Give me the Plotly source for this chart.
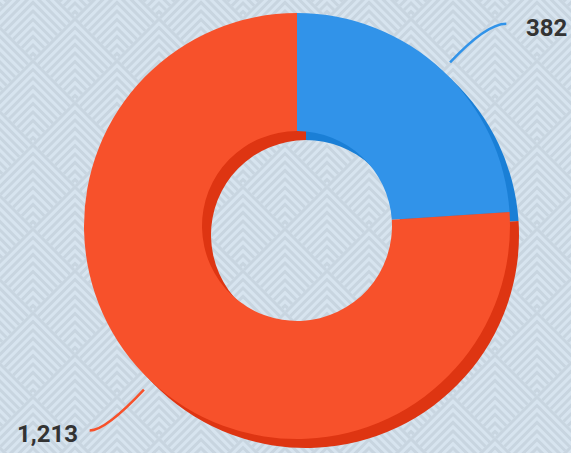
import math
import base64
import plotly.graph_objects as go

# ---- data ----
categories = ["Series A", "Series B"]
values = [382, 1213]
value_labels = ["382", "1,213"]
face_colors = ["#3193E9", "#F7512B"]
shadow_colors = ["#1A7FD6", "#DE3512"]

# ---- geometry (pixels) ----
W, H = 571, 453
CX, CY, R = 297, 226, 213
HOLE = 0.446
D = 9  # shadow / extrusion offset


def px(x):
    return x / W


def py(y):
    return 1 - y / H


def domain(cx, cy, r):
    return dict(x=[px(cx - r), px(cx + r)], y=[py(cy + r), py(cy - r)])


# ---- background pattern (nested chevrons in a diamond tiling) ----
BG = "#D7E4EF"
STRIPE = "#C8D5E0"
h = 42
s = 8.5
parts = [f'<svg xmlns="http://www.w3.org/2000/svg" width="{W}" height="{H}" viewBox="0 0 {W} {H}">',
         f'<rect width="{W}" height="{H}" fill="{BG}"/>']
ox, oy = 75, 17
for j in range(-4, int(H / h) + 5):
    for i in range(-4, int(W / (2 * h)) + 5):
        ax = ox + i * 2 * h + (j % 2) * h
        ay = oy + j * h
        k = 0
        while k * s < 2 * h - 3:
            off = k * s + 2
            x0 = ax - h + off / 2
            y0 = ay + h + off / 2
            x2 = ax + h - off / 2
            parts.append(
                f'<path d="M{x0:.1f},{y0:.1f} L{ax:.1f},{ay + off:.1f} L{x2:.1f},{y0:.1f}" '
                f'fill="none" stroke="{STRIPE}" stroke-width="3"/>')
            k += 1
parts.append('</svg>')
svg = "".join(parts)
bg_src = "data:image/svg+xml;base64," + base64.b64encode(svg.encode()).decode()

fig = go.Figure()

common = dict(labels=categories, values=values, hole=HOLE, sort=False,
              direction="clockwise", rotation=0, textinfo="none",
              hoverinfo="label+value", showlegend=False)

fig.add_trace(go.Pie(domain=domain(CX + D, CY + D, R),
                     marker=dict(colors=shadow_colors, line=dict(width=0)), **common))
fig.add_trace(go.Pie(domain=domain(CX, CY, R),
                     marker=dict(colors=face_colors, line=dict(width=0)), **common))

# ---- labels with curved connectors, positioned from the data angles ----
total = sum(values)
cum = 0
shapes = []
annotations = []
for v, lab, col in zip(values, value_labels, face_colors):
    mid = (cum + v / 2) / total
    cum += v
    a = 2 * math.pi * mid
    dx, dy = math.sin(a), -math.cos(a)
    sg = 1 if dx >= 0 else -1
    r1 = 277 if sg > 0 else 280
    ext = 20 if sg > 0 else 16
    gap = 18 if sg > 0 else 10
    p0 = (CX + 224 * dx, CY + 224 * dy)
    p1 = (CX + r1 * dx, CY + r1 * dy)
    p2 = (p1[0] + ext * sg, p1[1])
    path = (f"M {px(p0[0])},{py(p0[1])} Q {px(p1[0])},{py(p1[1])} "
            f"{px(p2[0])},{py(p2[1])}")
    shapes.append(dict(type="path", xref="paper", yref="paper", path=path,
                       line=dict(color=col, width=2.5)))
    annotations.append(dict(xref="paper", yref="paper",
                            x=px(p2[0] + gap * sg), y=py(p2[1] + 4),
                            text=lab, showarrow=False,
                            xanchor="left" if sg > 0 else "right", yanchor="middle",
                            font=dict(family="Roboto", size=24, color="#333333",
                                      weight="bold")))

fig.update_layout(
    width=W, height=H,
    margin=dict(l=0, r=0, t=0, b=0),
    paper_bgcolor=BG,
    plot_bgcolor=BG,
    images=[dict(source=bg_src, xref="paper", yref="paper", x=0, y=1,
                 sizex=1, sizey=1, sizing="stretch", layer="below",
                 xanchor="left", yanchor="top")],
    shapes=shapes,
    annotations=annotations,
)

fig.write_html("out.html",
               config={"displayModeBar": False},
               post_script="document.body.style.margin='0';"
                           "document.body.style.overflow='hidden';")
